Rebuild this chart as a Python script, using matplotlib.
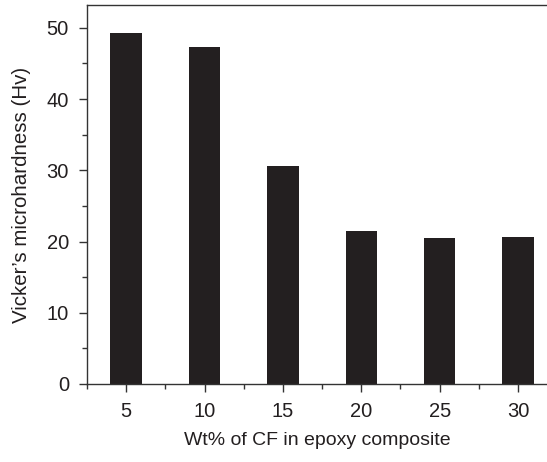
import numpy as np
import matplotlib.pyplot as plt
from matplotlib.ticker import MultipleLocator

plt.rcParams['font.family'] = ['Liberation Sans', 'DejaVu Sans']

wt = [5, 10, 15, 20, 25, 30]
hardness = [49.3, 47.3, 30.6, 21.5, 20.5, 20.6]

fig = plt.figure(figsize=(5.47, 4.62), dpi=100)
ax = fig.add_axes([0.159, 0.169, 0.841, 0.820])

ax.bar(wt, hardness, width=2.0, color='#231f20')

ax.set_xlim(2.5, 31.85)
ax.set_ylim(0, 53.2)
ax.set_xticks(wt)
ax.xaxis.set_minor_locator(MultipleLocator(2.5))
ax.yaxis.set_major_locator(MultipleLocator(10))
ax.yaxis.set_minor_locator(MultipleLocator(5))

ax.spines['right'].set_visible(False)
for s in ['left', 'bottom', 'top']:
    ax.spines[s].set_color('#333333')
    ax.spines[s].set_linewidth(1.0)

ax.tick_params(which='major', direction='out', length=6, width=1, colors='#333333',
               labelsize=14.5, labelcolor='#231f20', pad=7)
ax.tick_params(which='minor', direction='out', length=3.5, width=1, colors='#333333')

ax.set_xlabel('Wt% of CF in epoxy composite', fontsize=14, color='#231f20', labelpad=8)
ax.set_ylabel('Vicker\u2019s microhardness (Hv)', fontsize=14.8, color='#231f20', labelpad=11)

fig.savefig('out.png', dpi=100)
